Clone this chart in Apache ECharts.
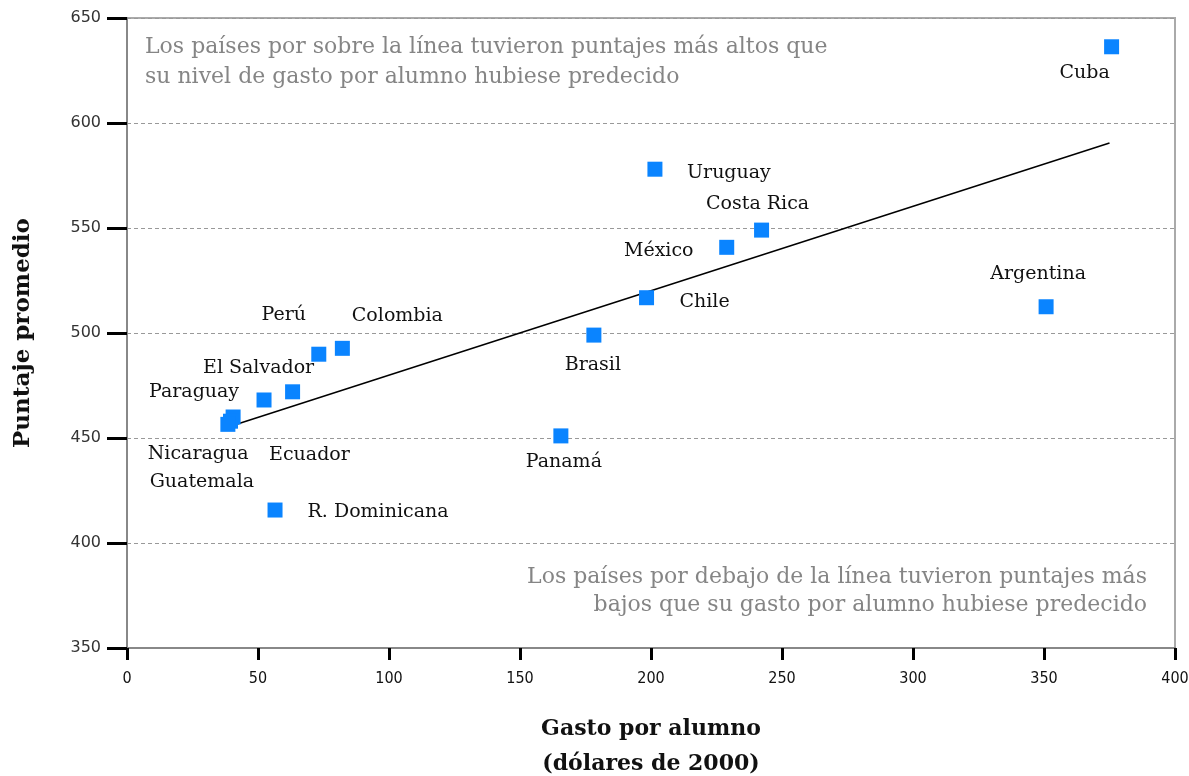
<!DOCTYPE html>
<html>
<head>
<meta charset="utf-8">
<script src="https://cdn.jsdelivr.net/npm/echarts@6/dist/echarts.min.js"></script>
<style>
  html, body { margin: 0; padding: 0; background: #fff; }
  #chart { width: 1189px; height: 776px; }
</style>
</head>
<body>
<div id="chart"></div>
<script>
// países, gasto por alumno (dólares de 2000) y puntaje promedio
const paises = ['Cuba', 'Uruguay', 'Costa Rica', 'México', 'Chile', 'Argentina', 'Brasil', 'Colombia',
  'Perú', 'El Salvador', 'Paraguay', 'Nicaragua', 'Ecuador', 'Guatemala', 'Panamá', 'R. Dominicana']
const gasto = [375.8, 201.5, 242.2, 228.9, 198.3, 350.8, 178.2, 82.2, 73.2, 63.2, 52.3, 40.5, 39.5, 38.5, 165.6, 56.5]
const puntaje = [636.3, 578, 549, 540.8, 516.8, 512.5, 499, 492.7, 489.9, 472, 468.1, 460, 458, 456.5, 451, 415.7]

// recta de tendencia (extremos)
const tendenciaX = [38, 375]
const tendenciaY = [455, 590.5]

const xTicks = [0, 50, 100, 150, 200, 250, 300, 350, 400]
const yTicks = [350, 400, 450, 500, 550, 600, 650]

// desplazamiento de cada etiqueta respecto a su punto (px)
const labelOffset = {
  'Cuba': [-27, 26],
  'Uruguay': [74, 4],
  'Costa Rica': [-4, -26],
  'México': [-68, 4],
  'Chile': [58, 4],
  'Argentina': [-8, -33],
  'Brasil': [-1, 30],
  'Colombia': [55, -32],
  'Perú': [-35, -39],
  'El Salvador': [-34, -24],
  'Paraguay': [-70, -8],
  'Nicaragua': [-35, 37],
  'Ecuador': [79, 34],
  'Guatemala': [-26, 58],
  'Panamá': [3, 26],
  'R. Dominicana': [103, 2]
}

const labelFont = 'DejaVu Serif'
const noteStyle = { fontFamily: 'DejaVu Serif', fontSize: 22, fill: '#858585' }

const chart = echarts.init(document.getElementById('chart'))
chart.setOption({
  animation: false,
  grid: {
    left: 127,
    right: 14,
    top: 18,
    bottom: 128,
    outerBoundsMode: 'none',
    containLabel: false,
    show: true,
    borderColor: '#aaa',
    borderWidth: 2
  },
  xAxis: {
    type: 'value',
    min: xTicks[0],
    max: xTicks[xTicks.length - 1],
    interval: 50,
    name: 'Gasto por alumno\n(dólares de 2000)',
    nameLocation: 'middle',
    nameGap: 64,
    nameTextStyle: {
      fontFamily: 'DejaVu Serif',
      fontWeight: 'bold',
      fontSize: 22,
      lineHeight: 35,
      color: '#111',
      verticalAlign: 'top'
    },
    axisLine: { onZero: false, lineStyle: { color: '#888', width: 2 } },
    axisTick: { length: 12, lineStyle: { color: '#000', width: 3 } },
    axisLabel: {
      margin: 23,
      fontFamily: 'DejaVu Sans Condensed',
      fontSize: 16,
      color: '#111'
    },
    splitLine: { show: false }
  },
  yAxis: {
    type: 'value',
    min: yTicks[0],
    max: yTicks[yTicks.length - 1],
    interval: 50,
    name: 'Puntaje promedio',
    nameLocation: 'middle',
    nameGap: 92,
    nameTextStyle: {
      fontFamily: 'DejaVu Serif',
      fontWeight: 'bold',
      fontSize: 23,
      color: '#111'
    },
    axisLine: { onZero: false, lineStyle: { color: '#888', width: 2 } },
    axisTick: { length: 20, lineStyle: { color: '#000', width: 3 } },
    axisLabel: {
      margin: 26,
      fontFamily: 'DejaVu Sans',
      fontSize: 16,
      color: '#333'
    },
    splitLine: { show: true, lineStyle: { color: '#999', type: [4, 3], width: 1 } }
  },
  series: [
    {
      type: 'line',
      data: tendenciaX.map((x, i) => [x, tendenciaY[i]]),
      symbol: 'none',
      lineStyle: { color: '#000', width: 1.5 },
      z: 2
    },
    {
      type: 'scatter',
      symbol: 'rect',
      symbolSize: 15,
      itemStyle: { color: '#0a84ff', opacity: 1 },
      z: 3,
      data: paises.map((name, i) => ({
        name,
        value: [gasto[i], puntaje[i]],
        label: {
          show: true,
          position: 'inside',
          offset: labelOffset[name],
          formatter: name,
          fontFamily: labelFont,
          fontSize: 19,
          color: '#111'
        }
      }))
    }
  ],
  graphic: [
    {
      type: 'text',
      x: 145,
      y: 47,
      style: { ...noteStyle, verticalAlign: 'middle', text: 'Los países por sobre la línea tuvieron puntajes más altos que' }
    },
    {
      type: 'text',
      x: 145,
      y: 77,
      style: { ...noteStyle, verticalAlign: 'middle', text: 'su nivel de gasto por alumno hubiese predecido' }
    },
    {
      type: 'text',
      x: 1147,
      y: 577,
      style: { ...noteStyle, align: 'right', verticalAlign: 'middle', text: 'Los países por debajo de la línea tuvieron puntajes más' }
    },
    {
      type: 'text',
      x: 1147,
      y: 605,
      style: { ...noteStyle, align: 'right', verticalAlign: 'middle', text: 'bajos que su gasto por alumno hubiese predecido' }
    }
  ]
})
</script>
</body>
</html>
